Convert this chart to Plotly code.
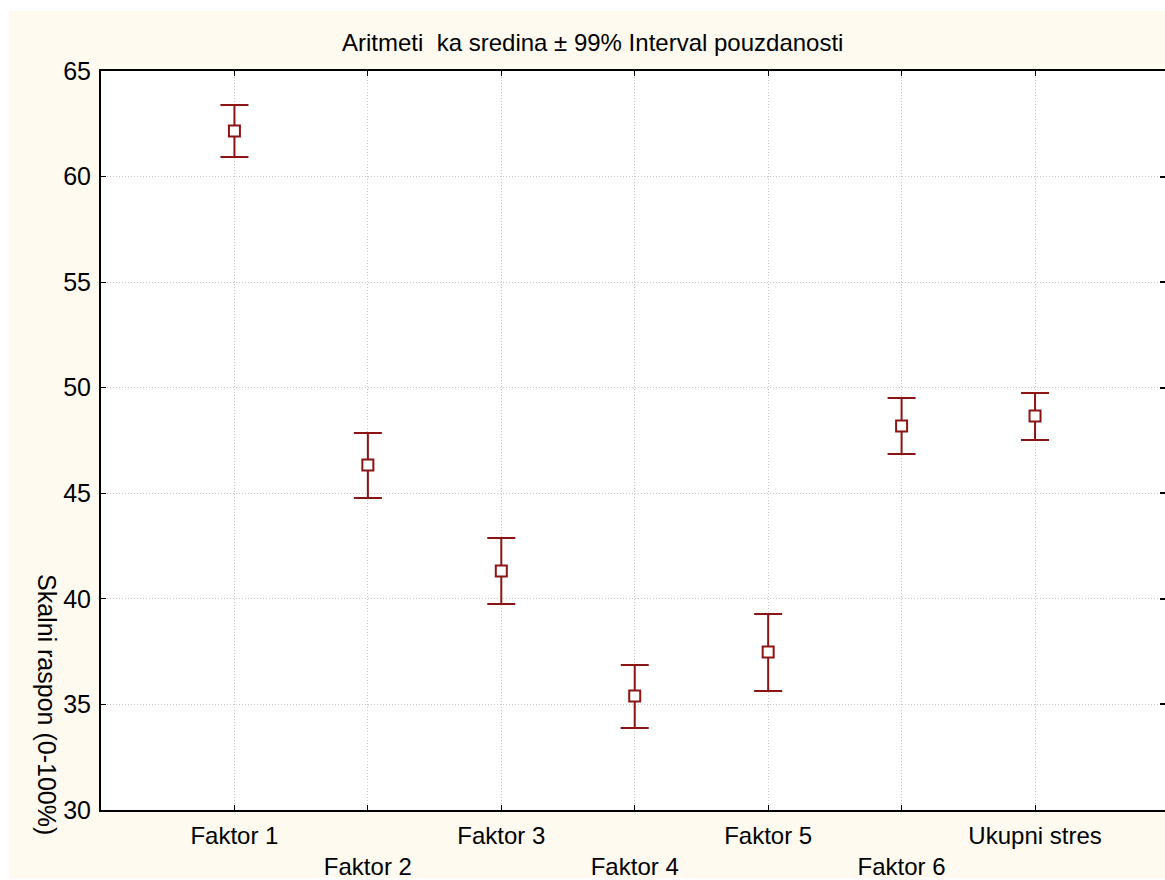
import plotly.graph_objects as go

categories = ["Faktor 1", "Faktor 2", "Faktor 3", "Faktor 4", "Faktor 5", "Faktor 6", "Ukupni stres"]
means = [62.16, 46.34, 41.32, 35.40, 37.48, 48.19, 48.66]
lower = [60.93, 44.78, 39.76, 33.88, 35.64, 46.86, 47.52]
upper = [63.39, 47.86, 42.88, 36.87, 39.28, 49.51, 49.75]
y_ticks = [30, 35, 40, 45, 50, 55, 60, 65]

title_text = "Aritmeti  ka sredina ± 99% Interval pouzdanosti"
y_title = "Skalni raspon (0-100%)"

plus = [u - m for u, m in zip(upper, means)]
minus = [m - l for m, l in zip(means, lower)]
ticktext = [c if i % 2 == 0 else "<br>" + c for i, c in enumerate(categories)]

RED = "#8C1414"
FONT = "Arial, Liberation Sans, sans-serif"
CREAM = "#FFFAF0"
GRID = "#c8c8c8"
CLEAR = "rgba(0,0,0,0)"

W, H = 1165, 880
L, R, T, B = 101, 0, 71, 70
PW, PH = W - L - R, H - T - B
X_RANGE = [-1, 6.974]
Y_RANGE = [30, 65]

fig = go.Figure()
fig.add_trace(go.Scatter(
    x=categories, y=means, mode="markers",
    marker=dict(symbol="square", size=11, color="white", line=dict(color=RED, width=2)),
    error_y=dict(type="data", symmetric=False, array=plus, arrayminus=minus,
                 color=RED, thickness=2, width=14),
    showlegend=False, hoverinfo="x+y",
))
# companion trace for the top / right tick axes
fig.add_trace(go.Scatter(
    x=categories, y=means, xaxis="x2", yaxis="y2", mode="markers",
    marker=dict(opacity=0), showlegend=False, hoverinfo="skip",
))

fig.update_layout(
    width=W, height=H, autosize=False,
    margin=dict(l=L, r=R, t=T, b=B, pad=0),
    paper_bgcolor="white", plot_bgcolor="white",
    font=dict(family=FONT, size=24, color="black"),
    xaxis=dict(
        type="category", range=X_RANGE,
        tickmode="array", tickvals=categories, ticktext=ticktext,
        showline=True, linecolor="black", linewidth=2, mirror=False,
        ticks="inside", ticklen=5, tickcolor="black", tickwidth=1,
        showgrid=True, gridcolor=GRID, gridwidth=1, griddash="1px,2px",
        ticklabelstandoff=3, tickfont=dict(size=24), zeroline=False,
    ),
    yaxis=dict(
        range=Y_RANGE, tickmode="array", tickvals=y_ticks,
        showline=True, linecolor="black", linewidth=2, mirror=False,
        ticks="inside", ticklen=5, tickcolor="black", tickwidth=1,
        showgrid=True, gridcolor=GRID, gridwidth=1, griddash="1px,2px",
        zeroline=False, ticklabelstandoff=3, tickfont=dict(size=25),
    ),
    xaxis2=dict(
        type="category", overlaying="x", side="top", anchor="y2", range=X_RANGE,
        tickmode="array", tickvals=categories,
        showline=True, linecolor="black", linewidth=2,
        ticks="inside", ticklen=5, tickcolor="black", tickwidth=1,
        showgrid=False, zeroline=False, showticklabels=False,
    ),
    yaxis2=dict(
        overlaying="y", side="right", anchor="x2", range=Y_RANGE, tickmode="array", tickvals=y_ticks,
        showline=False, ticks="inside", ticklen=5, tickcolor="black", tickwidth=2,
        showgrid=False, zeroline=False, showticklabels=False,
    ),
    shapes=[
        dict(type="rect", xref="paper", yref="paper", layer="below",
             x0=(9 - L) / PW, x1=1.02, y0=-(B - 2) / PH, y1=(PH + T - 11) / PH,
             fillcolor=CREAM, line=dict(width=0, color=CLEAR)),
        dict(type="rect", xref="paper", yref="paper", layer="below",
             x0=0, x1=1, y0=0, y1=1, fillcolor="white", line=dict(width=0, color=CLEAR)),
    ],
    annotations=[
        dict(text=title_text, xref="paper", yref="paper",
             x=(592 - L) / PW, y=(PH + T - 42) / PH, xanchor="center", yanchor="middle",
             showarrow=False, font=dict(size=24)),
        dict(text=y_title, xref="paper", yref="paper", textangle=90,
             x=(47 - L) / PW, y=(PH + T - 704) / PH, xanchor="center", yanchor="middle",
             showarrow=False, font=dict(size=25)),
    ],
)

fig.write_html(
    "out.html",
    config={"displayModeBar": False},
    post_script="document.body.style.margin='0';document.body.style.overflow='hidden';",
)
